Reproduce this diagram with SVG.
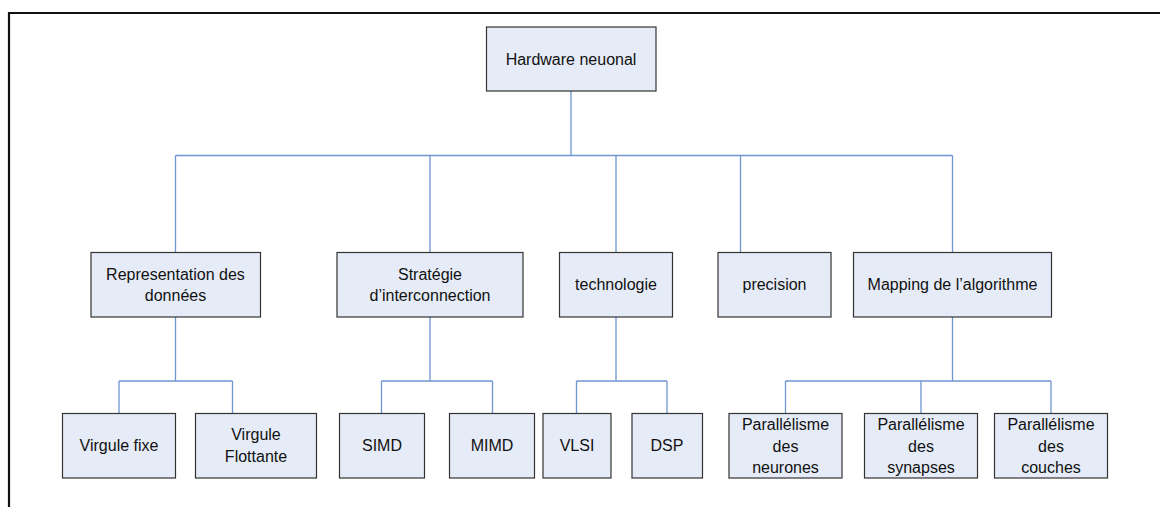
<svg xmlns="http://www.w3.org/2000/svg" width="1160" height="507" viewBox="0 0 1160 507">
  <style>
    .box { fill: #E6ECF7; stroke: #333333; stroke-width: 1.2; }
    .lbl { font-family: "Liberation Sans", Arial, sans-serif; font-size: 16px; fill: #111111; text-anchor: middle; }
    .conn { fill: none; stroke: #6F95D2; stroke-width: 1.3; }
    .frame { fill: none; stroke: #111111; stroke-width: 2.2; }
  </style>

  <rect width="1160" height="507" fill="#ffffff"/>

  <!-- page frame -->
  <path class="frame" d="M9 507 V13 H1160"/>

  <!-- connectors -->
  <g id="connectors">
    <path class="conn" d="M571 91 V155.5 M175.5 155.5 H952.5 M175.5 155.5 V252 M430 155.5 V252 M616 155.5 V252 M740.5 155.5 V252 M952.5 155.5 V252"/>
    <path class="conn" d="M175.5 317 V381 M119 381 H232.5 M119 381 V413 M232.5 381 V413"/>
    <path class="conn" d="M430 317 V381 M381.5 381 H492.5 M381.5 381 V413 M492.5 381 V413"/>
    <path class="conn" d="M616 317 V381 M576.5 381 H667 M576.5 381 V413 M667 381 V413"/>
    <path class="conn" d="M952.5 317 V381 M785.5 381 H1051 M785.5 381 V413 M921 381 V413 M1051 381 V413"/>
  </g>

  <!-- level 0 -->
  <g id="hardware-neuronal">
    <rect class="box" x="486.5" y="27" width="169.5" height="64"/>
    <text class="lbl" x="571" y="65">Hardware neuonal</text>
  </g>

  <!-- level 1 -->
  <g id="representation">
    <rect class="box" x="91" y="252.5" width="169.5" height="64.5"/>
    <text class="lbl" x="175.5" y="279.5">Representation des</text>
    <text class="lbl" x="175.5" y="301">données</text>
  </g>
  <g id="strategie">
    <rect class="box" x="337" y="252.5" width="186" height="64.5"/>
    <text class="lbl" x="430" y="279.5">Stratégie</text>
    <text class="lbl" x="430" y="301">d’interconnection</text>
  </g>
  <g id="technologie">
    <rect class="box" x="559.5" y="252.5" width="113" height="64.5"/>
    <text class="lbl" x="616" y="290">technologie</text>
  </g>
  <g id="precision">
    <rect class="box" x="718" y="252.5" width="113" height="64.5"/>
    <text class="lbl" x="774.5" y="290">precision</text>
  </g>
  <g id="mapping">
    <rect class="box" x="853.5" y="252.5" width="198" height="64.5"/>
    <text class="lbl" x="952.5" y="290">Mapping de l’algorithme</text>
  </g>

  <!-- level 2 -->
  <g id="virgule-fixe">
    <rect class="box" x="62.5" y="413.5" width="113" height="64.5"/>
    <text class="lbl" x="119" y="451">Virgule fixe</text>
  </g>
  <g id="virgule-flottante">
    <rect class="box" x="195.5" y="413.5" width="121" height="64.5"/>
    <text class="lbl" x="256" y="440">Virgule</text>
    <text class="lbl" x="256" y="461.5">Flottante</text>
  </g>
  <g id="simd">
    <rect class="box" x="339.5" y="413.5" width="85" height="64.5"/>
    <text class="lbl" x="382" y="451">SIMD</text>
  </g>
  <g id="mimd">
    <rect class="box" x="449.5" y="413.5" width="85" height="64.5"/>
    <text class="lbl" x="492" y="451">MIMD</text>
  </g>
  <g id="vlsi">
    <rect class="box" x="543" y="413.5" width="68" height="64.5"/>
    <text class="lbl" x="577" y="451">VLSI</text>
  </g>
  <g id="dsp">
    <rect class="box" x="632" y="413.5" width="70.5" height="64.5"/>
    <text class="lbl" x="667" y="451">DSP</text>
  </g>
  <g id="par-neurones">
    <rect class="box" x="729" y="413.5" width="113" height="64.5"/>
    <text class="lbl" x="785.5" y="430">Parallélisme</text>
    <text class="lbl" x="785.5" y="451.5">des</text>
    <text class="lbl" x="785.5" y="473">neurones</text>
  </g>
  <g id="par-synapses">
    <rect class="box" x="864.5" y="413.5" width="113" height="64.5"/>
    <text class="lbl" x="921" y="430">Parallélisme</text>
    <text class="lbl" x="921" y="451.5">des</text>
    <text class="lbl" x="921" y="473">synapses</text>
  </g>
  <g id="par-couches">
    <rect class="box" x="994.5" y="413.5" width="113" height="64.5"/>
    <text class="lbl" x="1051" y="430">Parallélisme</text>
    <text class="lbl" x="1051" y="451.5">des</text>
    <text class="lbl" x="1051" y="473">couches</text>
  </g>
</svg>
